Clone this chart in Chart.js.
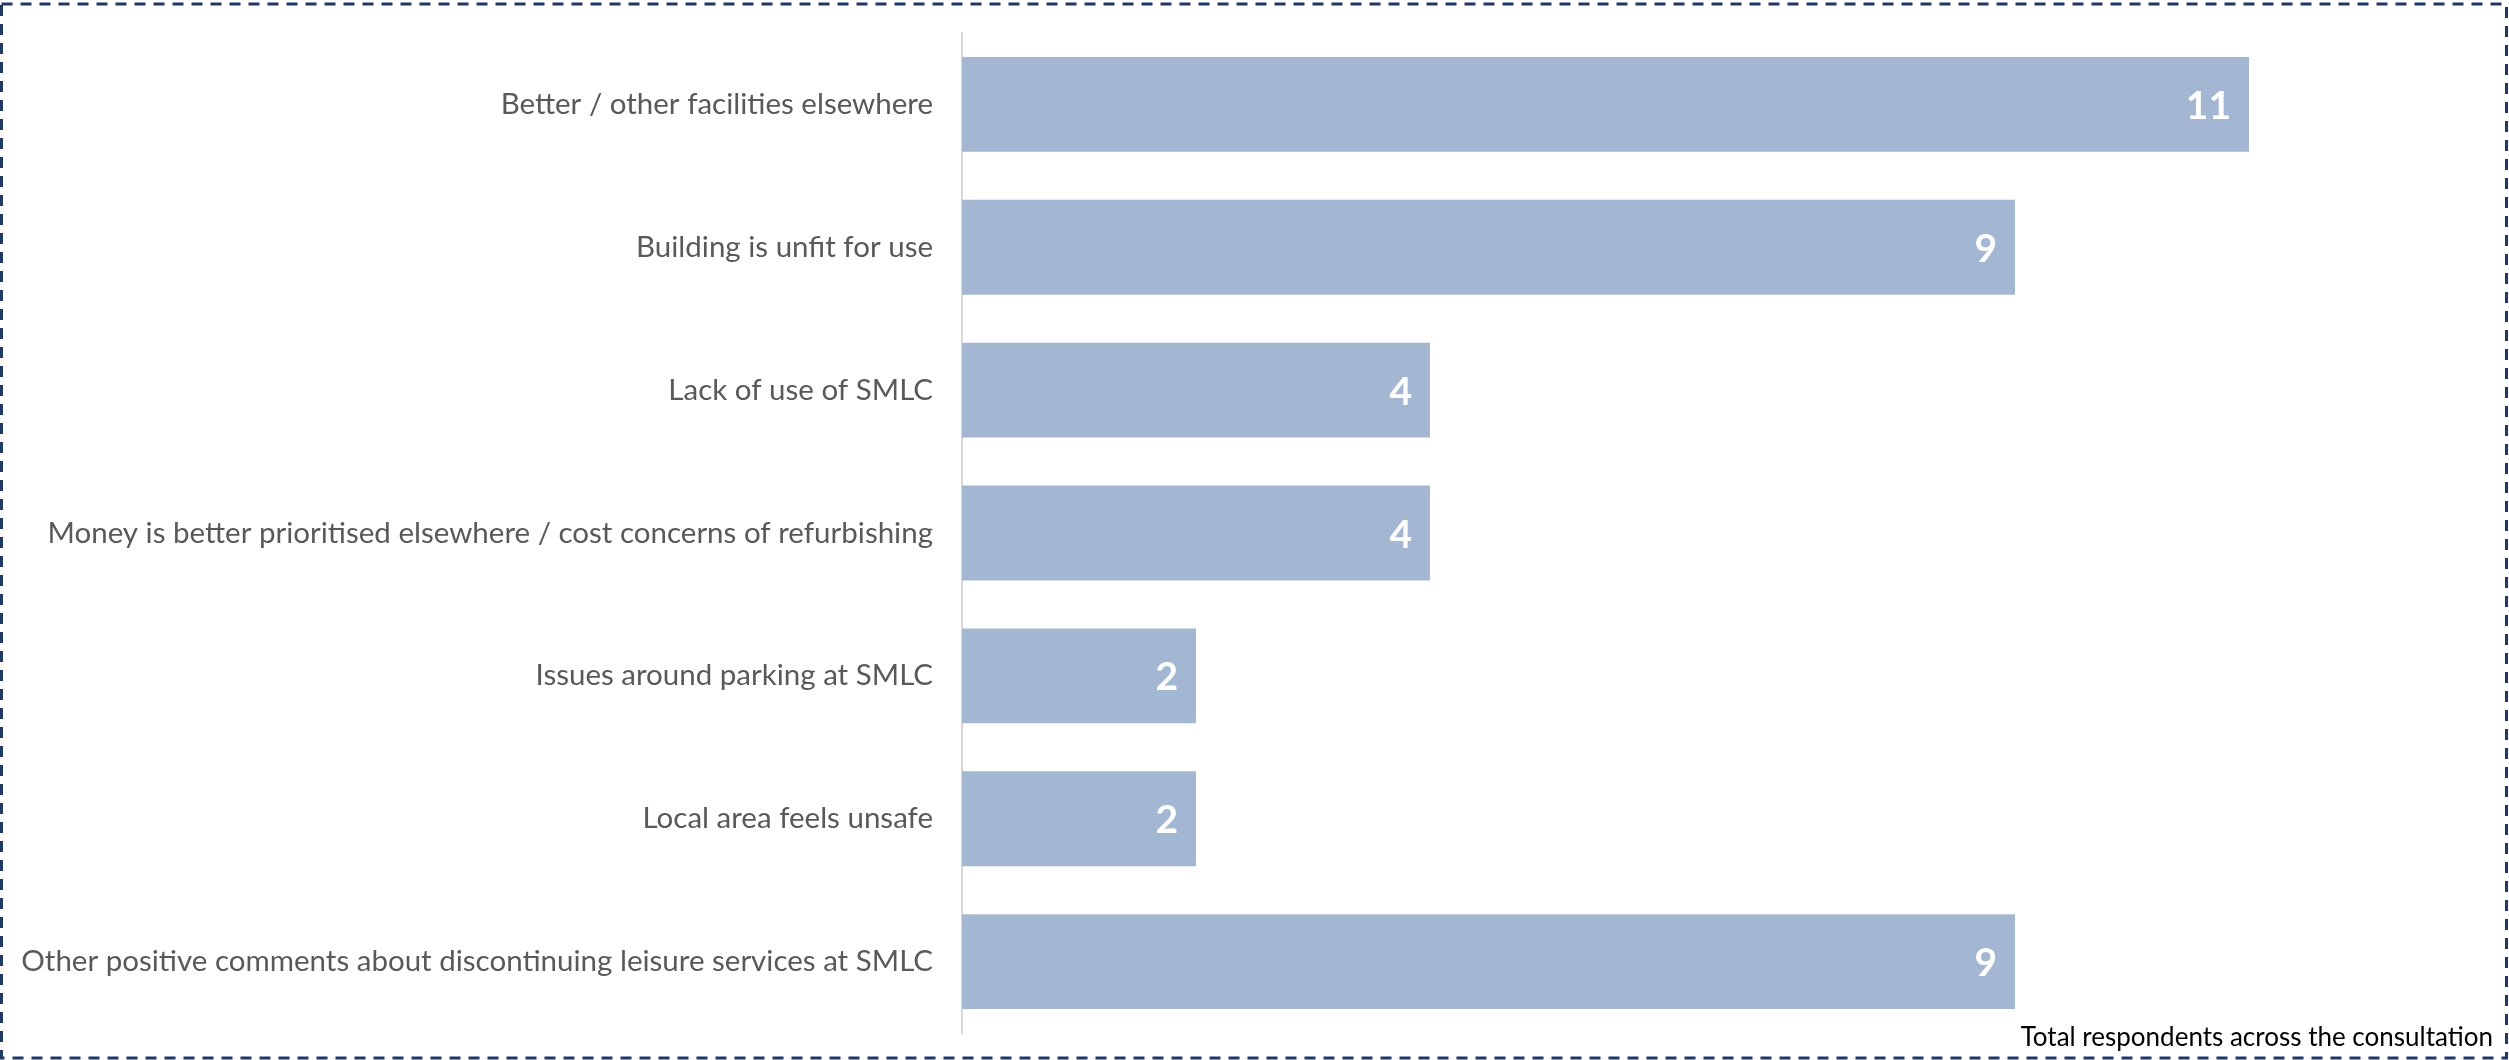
<!DOCTYPE html>
<html>
<head>
<meta charset="utf-8">
<script src="https://cdn.jsdelivr.net/npm/chart.js@4"></script>
<style>
  body { margin: 0; background: #fff; }
  canvas { display: block; }
</style>
</head>
<body>
<canvas id="barChart" width="2509" height="1060"></canvas>
<script>
const reasons = [
  'Better / other facilities elsewhere',
  'Building is unfit for use',
  'Lack of use of SMLC',
  'Money is better prioritised elsewhere / cost concerns of refurbishing',
  'Issues around parking at SMLC',
  'Local area feels unsafe',
  'Other positive comments about discontinuing leisure services at SMLC'
];
const respondents = [11, 9, 4, 4, 2, 2, 9];
const footnote = 'Total respondents across the consultation';

// dashed frame + footnote
const frame = {
  id: 'frame',
  beforeDraw(chart) {
    const ctx = chart.ctx;
    ctx.save();
    ctx.strokeStyle = '#1f3864';
    ctx.lineWidth = 3;
    ctx.setLineDash([11, 8]);
    ctx.strokeRect(1.5, 4, 2505, 1054);
    ctx.restore();
  },
  afterDraw(chart) {
    const ctx = chart.ctx;
    ctx.save();
    ctx.font = '26px Lato';
    ctx.fillStyle = '#000';
    ctx.textAlign = 'right';
    ctx.textBaseline = 'middle';
    ctx.fillText(footnote, 2493, 1038);
    ctx.restore();
  }
};

// white numbers inside the bar ends
const valueLabels = {
  id: 'valueLabels',
  afterDatasetsDraw(chart) {
    const ctx = chart.ctx;
    const meta = chart.getDatasetMeta(0);
    ctx.save();
    ctx.font = 'bold 39px Lato';
    ctx.fillStyle = '#fff';
    ctx.textAlign = 'right';
    ctx.textBaseline = 'middle';
    meta.data.forEach((bar, i) => {
      ctx.fillText(respondents[i], bar.x - 18, bar.y + 2);
    });
    ctx.restore();
  }
};

new Chart(document.getElementById('barChart'), {
  type: 'bar',
  data: {
    labels: reasons,
    datasets: [{
      data: respondents,
      backgroundColor: '#a3b7d3',
      barPercentage: 0.664,
      categoryPercentage: 1
    }]
  },
  options: {
    indexAxis: 'y',
    responsive: false,
    animation: false,
    layout: { padding: { left: 0, right: 143, top: 33, bottom: 27 } },
    plugins: { legend: { display: false }, tooltip: { enabled: false } },
    scales: {
      x: { display: false, min: 0, max: 12 },
      y: {
        afterFit(scale) {
          scale.width = 962;
          scale.paddingTop = 0;
          scale.paddingBottom = 0;
        },
        grid: { display: false, drawTicks: false },
        border: { display: true, color: '#d9d9d9', width: 2 },
        ticks: { padding: 29, color: '#595959', font: { family: 'Lato', size: 29.5 } }
      }
    }
  },
  plugins: [frame, valueLabels]
});
</script>
</body>
</html>
